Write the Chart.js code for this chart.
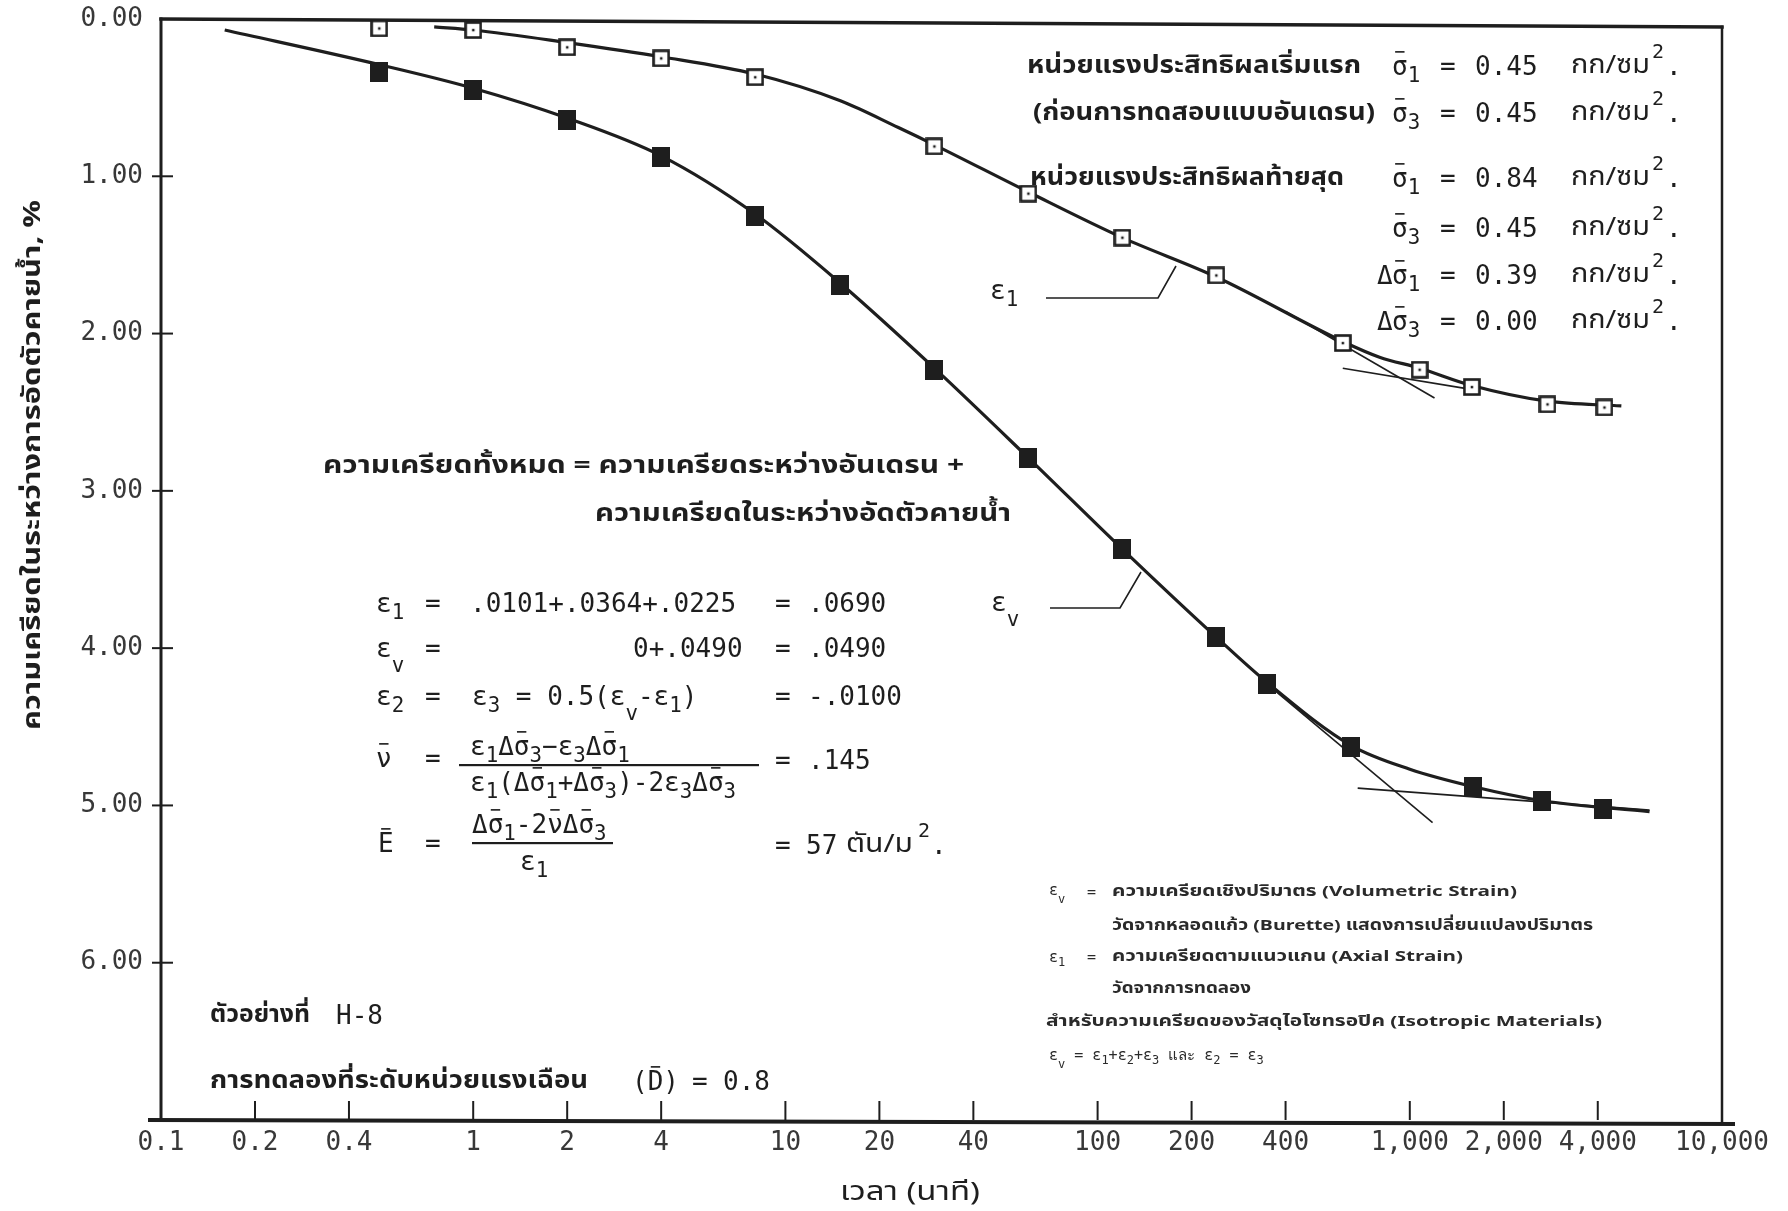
<!DOCTYPE html>
<html>
<head>
<meta charset="utf-8">
<title>H-8 consolidation</title>
<script src="https://cdn.jsdelivr.net/npm/chart.js@4.4.1/dist/chart.umd.min.js"></script>
<style>
  html, body { margin: 0; padding: 0; background: #fff; }
  #wrap { width: 1788px; height: 1211px; }
</style>
</head>
<body>
<div id="wrap"><canvas id="consolidation" width="1788" height="1211"></canvas></div>
<script>
// time axis (minutes, log) and strain axis (%)
const xTickValues = [0.1, 0.2, 0.4, 1, 2, 4, 10, 20, 40, 100, 200, 400, 1000, 2000, 4000, 10000];
const xTickLabels = ['0.1', '0.2', '0.4', '1', '2', '4', '10', '20', '40', '100', '200', '400', '1,000', '2,000', '4,000', '10,000'];
const yTickLabels = ['0.00', '1.00', '2.00', '3.00', '4.00', '5.00', '6.00'];

// e1 - axial strain readings (open squares)
const axialTime = [0.5, 1, 2, 4, 8, 30, 60, 120, 240, 610, 1075, 1580, 2760, 4200];
const axialStrain = [0.06, 0.07, 0.18, 0.25, 0.37, 0.81, 1.11, 1.39, 1.63, 2.06, 2.23, 2.34, 2.45, 2.47];

// ev - volumetric strain readings (filled squares)
const volTime = [0.5, 1, 2, 4, 8, 15, 30, 60, 120, 240, 350, 650, 1590, 2650, 4170];
const volStrain = [0.34, 0.45, 0.64, 0.88, 1.25, 1.69, 2.23, 2.79, 3.37, 3.93, 4.23, 4.63, 4.88, 4.97, 5.02];

// hand drawn curves through the readings
const axialCurveTime = [0.75, 1, 2, 4, 8, 15, 23, 30, 60, 120, 240, 610, 800, 1075, 1580, 2760, 4760];
const axialCurve = [0.05, 0.07, 0.15, 0.24, 0.35, 0.52, 0.69, 0.80, 1.10, 1.39, 1.64, 2.05, 2.15, 2.22, 2.33, 2.43, 2.46];
const volCurveTime = [0.16, 0.5, 1, 2, 4, 8, 15, 30, 60, 120, 240, 350, 650, 1000, 1590, 2650, 5860];
const volCurve = [0.07, 0.29, 0.44, 0.63, 0.87, 1.24, 1.68, 2.22, 2.79, 3.37, 3.93, 4.22, 4.62, 4.77, 4.88, 4.97, 5.04];

// tangent lines (end of primary consolidation)
const axialSteepTime = [400, 1200];
const axialSteep = [1.86, 2.41];
const axialFlatTime = [610, 1520];
const axialFlat = [2.22, 2.35];
const volSteepTime = [350, 1183];
const volSteep = [4.23, 5.11];
const volFlatTime = [681, 5860];
const volFlat = [4.89, 5.03];

const INK = '#1e1e1e';
const MONO = '"DejaVu Sans Mono", "Liberation Mono", monospace';
const THAI = '"Noto Sans Thai", "Noto Sans Thai UI", "Loma", "Garuda", "Tlwg Typo", "Noto Sans", "DejaVu Sans", sans-serif';

function pairs(xs, ys) {
    return xs.map((x, i) => ({ x: x, y: ys[i] }));
}

function squareMark(filled) {
    const c = document.createElement('canvas');
    c.width = 18;
    c.height = filled ? 20 : 18;
    const g = c.getContext('2d');
    if (filled) {
        g.fillStyle = INK;
        g.fillRect(0, 0, c.width, c.height);
    } else {
        g.fillStyle = '#fff';
        g.fillRect(1, 1, 16, 16);
        g.strokeStyle = INK;
        g.lineWidth = 2.6;
        g.strokeRect(1.5, 1.5, 15, 15);
        g.fillStyle = INK;
        g.fillRect(7.8, 7.8, 2.5, 2.5);
    }
    return c;
}

// ---- text helpers ----
function mono(g, str, x, y, size) {
    g.font = size + 'px ' + MONO;
    g.fillText(str, x, y);
    return x + g.measureText(str).width;
}

function thai(g, str, x, y, w, size, bold) {
    g.font = (bold ? 'bold ' : '') + size + 'px ' + THAI;
    const nat = g.measureText(str).width;
    g.save();
    g.translate(x, y);
    if (w) g.scale(w / nat, 1);
    g.fillText(str, 0, 0);
    g.restore();
}

function rich(g, x, y, parts, size) {
    let cx = x;
    parts.forEach(p => {
        if (typeof p === 'string') p = { t: p };
        const small = p.sub || p.sup || p.low;
        const fs = small ? size * 0.8 : size;
        g.font = fs + 'px ' + MONO;
        let dy = 0;
        if (p.sub) dy = size * 0.32;
        if (p.low) dy = size * 0.62;
        if (p.sup) dy = -size * 0.5;
        g.fillText(p.t, cx, y + dy);
        const w = g.measureText(p.t).width;
        if (p.bar) {
            g.lineWidth = Math.max(1.2, size / 16);
            g.beginPath();
            g.moveTo(cx + w * 0.2, y - size * 0.62);
            g.lineTo(cx + w * 0.8, y - size * 0.62);
            g.stroke();
        }
        cx += w;
    });
    return cx;
}

function stressRow(g, y, delta, sub, value) {
    if (delta) mono(g, 'Δ', 1377, y, 26);
    rich(g, 1392, y, [{ t: 'σ', bar: true }, { t: sub, sub: true }], 26);
    mono(g, '=', 1440, y, 26);
    mono(g, value, 1475, y, 26);
    thai(g, 'กก/ซม', 1571, y, 79, 26, false);
    mono(g, '2', 1652, y - 15, 20);
    mono(g, '.', 1666, y, 26);
}

const sheet = {
    id: 'sheet',
    beforeDatasetsDraw(chart) {
        const g = chart.ctx;
        const a = chart.chartArea;
        const xs = chart.scales.x;
        const ys = chart.scales.y;
        g.save();
        g.strokeStyle = INK;
        g.lineCap = 'square';
        // frame
        g.lineWidth = 3;
        g.beginPath(); g.moveTo(a.left, a.top); g.lineTo(a.left, a.bottom); g.stroke();
        g.lineWidth = 3.5;
        g.beginPath(); g.moveTo(a.left, a.top); g.lineTo(a.right, a.top + 8); g.stroke();
        g.lineWidth = 2.5;
        g.beginPath(); g.moveTo(a.right, a.top + 8); g.lineTo(a.right, a.bottom + 3); g.stroke();
        g.lineWidth = 4;
        g.beginPath(); g.moveTo(a.left - 11, a.bottom); g.lineTo(a.right + 11, a.bottom + 4); g.stroke();
        // ticks
        g.lineWidth = 2;
        g.lineCap = 'butt';
        xTickValues.slice(1, -1).forEach(v => {
            const px = xs.getPixelForValue(v);
            g.beginPath(); g.moveTo(px, a.bottom); g.lineTo(px, a.bottom - 19); g.stroke();
        });
        for (let i = 1; i < yTickLabels.length; i++) {
            const py = ys.getPixelForValue(i);
            g.beginPath(); g.moveTo(a.left - 9, py); g.lineTo(a.left + 12, py); g.stroke();
        }
        g.restore();
    },
    afterDatasetsDraw(chart) {
        const g = chart.ctx;
        g.save();
        g.fillStyle = INK;
        g.strokeStyle = INK;
        g.textBaseline = 'middle';
        g.textAlign = 'left';

        // initial / final effective stresses
        thai(g, 'หน่วยแรงประสิทธิผลเริ่มแรก', 1027, 68, 334, 24, true);
        stressRow(g, 68, false, '1', '0.45');
        thai(g, '(ก่อนการทดสอบแบบอันเดรน)', 1033, 115, 342, 24, true);
        stressRow(g, 115, false, '3', '0.45');
        thai(g, 'หน่วยแรงประสิทธิผลท้ายสุด', 1030, 180, 314, 24, true);
        stressRow(g, 180, false, '1', '0.84');
        stressRow(g, 230, false, '3', '0.45');
        stressRow(g, 277, true, '1', '0.39');
        stressRow(g, 323, true, '3', '0.00');

        // curve labels with leaders
        g.lineWidth = 1.6;
        rich(g, 990, 292, ['ε', { t: '1', sub: true }], 26);
        g.beginPath(); g.moveTo(1046, 298); g.lineTo(1158, 298); g.lineTo(1176, 266); g.stroke();
        rich(g, 991, 604, ['ε', { t: 'v', low: true }], 26);
        g.beginPath(); g.moveTo(1050, 608); g.lineTo(1120, 608); g.lineTo(1141, 572); g.stroke();

        // total strain note
        thai(g, 'ความเครียดทั้งหมด = ความเครียดระหว่างอันเดรน +', 323, 468, 641, 24, true);
        thai(g, 'ความเครียดในระหว่างอัดตัวคายน้ำ', 595, 516, 416, 24, true);

        // worked equations
        const E = 26;
        rich(g, 376, 605, ['ε', { t: '1', sub: true }], E);
        mono(g, '=', 425, 605, E);
        mono(g, '.0101+.0364+.0225', 470, 605, E);
        mono(g, '=', 775, 605, E);
        mono(g, '.0690', 808, 605, E);

        rich(g, 376, 650, ['ε', { t: 'v', low: true }], E);
        mono(g, '=', 425, 650, E);
        mono(g, '0+.0490', 633, 650, E);
        mono(g, '=', 775, 650, E);
        mono(g, '.0490', 808, 650, E);

        rich(g, 376, 698, ['ε', { t: '2', sub: true }], E);
        mono(g, '=', 425, 698, E);
        rich(g, 472, 698, ['ε', { t: '3', sub: true }, ' = 0.5(ε', { t: 'v', low: true }, '-ε', { t: '1', sub: true }, ')'], E);
        mono(g, '=', 775, 698, E);
        mono(g, '-.0100', 808, 698, E);

        rich(g, 376, 760, [{ t: 'ν', bar: true }], E);
        mono(g, '=', 425, 760, E);
        rich(g, 470, 748, ['ε', { t: '1', sub: true }, 'Δ', { t: 'σ', bar: true }, { t: '3', sub: true }, '−ε', { t: '3', sub: true }, 'Δ', { t: 'σ', bar: true }, { t: '1', sub: true }], E);
        g.fillRect(459, 764, 300, 2.2);
        rich(g, 470, 784, ['ε', { t: '1', sub: true }, '(Δ', { t: 'σ', bar: true }, { t: '1', sub: true }, '+Δ', { t: 'σ', bar: true }, { t: '3', sub: true }, ')-2ε', { t: '3', sub: true }, 'Δ', { t: 'σ', bar: true }, { t: '3', sub: true }], E);
        mono(g, '=', 775, 762, E);
        mono(g, '.145', 808, 762, E);

        rich(g, 378, 845, [{ t: 'E', bar: true }], E);
        mono(g, '=', 425, 845, E);
        rich(g, 472, 826, ['Δ', { t: 'σ', bar: true }, { t: '1', sub: true }, '-2', { t: 'ν', bar: true }, 'Δ', { t: 'σ', bar: true }, { t: '3', sub: true }], E);
        g.fillRect(472, 842, 141, 2.2);
        rich(g, 520, 863, ['ε', { t: '1', sub: true }], E);
        mono(g, '=', 775, 847, E);
        mono(g, '57', 806, 847, E);
        thai(g, 'ตัน/ม', 846, 847, 67, 26, false);
        mono(g, '2', 918, 832, 20);
        mono(g, '.', 931, 847, E);

        // legend notes
        const N = 15;
        g.fillStyle = '#2a2a2a';
        rich(g, 1049, 891, ['ε', { t: 'v', low: true }], N);
        mono(g, '=', 1087, 893, N);
        thai(g, 'ความเครียดเชิงปริมาตร (Volumetric Strain)', 1112, 893, 405, N, true);
        thai(g, 'วัดจากหลอดแก้ว (Burette) แสดงการเปลี่ยนแปลงปริมาตร', 1112, 927, 481, N, true);
        rich(g, 1049, 958, ['ε', { t: '1', sub: true }], N);
        mono(g, '=', 1087, 958, N);
        thai(g, 'ความเครียดตามแนวแกน (Axial Strain)', 1112, 958, 351, N, true);
        thai(g, 'วัดจากการทดลอง', 1112, 990, 139, N, true);
        thai(g, 'สำหรับความเครียดของวัสดุไอโซทรอปิค (Isotropic Materials)', 1046, 1023, 556, N, true);
        rich(g, 1049, 1056, ['ε', { t: 'v', low: true }, ' = ε', { t: '1', sub: true }, '+ε', { t: '2', sub: true }, '+ε', { t: '3', sub: true }, ' และ ε', { t: '2', sub: true }, ' = ε', { t: '3', sub: true }], N);
        g.fillStyle = INK;

        // sample id
        thai(g, 'ตัวอย่างที่', 210, 1017, 100, 24, true);
        mono(g, 'H-8', 336, 1017, 26);
        thai(g, 'การทดลองที่ระดับหน่วยแรงเฉือน', 210, 1083, 378, 24, true);
        rich(g, 632, 1083, ['(', { t: 'D', bar: true }, ')'], 26);
        mono(g, '=', 692, 1083, 26);
        mono(g, '0.8', 723, 1083, 26);

        // axis titles
        thai(g, 'เวลา (นาที)', 840, 1195, 140, 26, false);
        g.save();
        g.translate(35, 465);
        g.rotate(-Math.PI / 2);
        thai(g, 'ความเครียดในระหว่างการอัดตัวคายน้ำ, %', -265, 0, 530, 24, true);
        g.restore();

        g.restore();
    }
};

const openSquare = squareMark(false);
const filledSquare = squareMark(true);

const ctx = document.getElementById('consolidation').getContext('2d');
const strainChart = new Chart(ctx, {
    type: 'scatter',
    data: {
        datasets: [
            {
                label: 'ε1',
                data: pairs(axialTime, axialStrain),
                pointStyle: openSquare,
                pointRadius: 9,
                showLine: false,
                clip: false,
                order: 0
            },
            {
                label: 'εv',
                data: pairs(volTime, volStrain),
                pointStyle: filledSquare,
                pointRadius: 10,
                showLine: false,
                clip: false,
                order: 0
            },
            {
                label: 'ε1 curve',
                data: pairs(axialCurveTime, axialCurve),
                showLine: true,
                pointRadius: 0,
                borderColor: INK,
                borderWidth: 3.2,
                cubicInterpolationMode: 'monotone',
                order: 2
            },
            {
                label: 'εv curve',
                data: pairs(volCurveTime, volCurve),
                showLine: true,
                pointRadius: 0,
                borderColor: INK,
                borderWidth: 3.2,
                cubicInterpolationMode: 'monotone',
                order: 2
            },
            { data: pairs(axialSteepTime, axialSteep), showLine: true, pointRadius: 0, borderColor: INK, borderWidth: 1.6, order: 1 },
            { data: pairs(axialFlatTime, axialFlat), showLine: true, pointRadius: 0, borderColor: INK, borderWidth: 1.6, order: 1 },
            { data: pairs(volSteepTime, volSteep), showLine: true, pointRadius: 0, borderColor: INK, borderWidth: 1.6, order: 1 },
            { data: pairs(volFlatTime, volFlat), showLine: true, pointRadius: 0, borderColor: INK, borderWidth: 1.6, order: 1 }
        ]
    },
    options: {
        responsive: false,
        animation: false,
        events: [],
        layout: { padding: { top: 19, right: 66, left: 0, bottom: 0 } },
        scales: {
            x: {
                type: 'logarithmic',
                min: 0.1,
                max: 10000,
                afterBuildTicks: (scale) => {
                    scale.ticks = xTickValues.map(v => ({ value: v }));
                },
                afterFit: (scale) => {
                    scale.height = 91;
                    scale.paddingLeft = 0;
                    scale.paddingRight = 0;
                },
                grid: { display: false, drawTicks: false },
                border: { display: false },
                ticks: {
                    autoSkip: false,
                    maxRotation: 0,
                    padding: 8,
                    color: '#383838',
                    font: { family: MONO, size: 26 },
                    callback: (value, index) => xTickLabels[index]
                }
            },
            y: {
                min: 0,
                max: 7,
                reverse: true,
                afterFit: (scale) => {
                    scale.width = 161;
                    scale.paddingTop = 0;
                    scale.paddingBottom = 0;
                },
                grid: { display: false, drawTicks: false },
                border: { display: false },
                ticks: {
                    stepSize: 1,
                    padding: 18,
                    color: '#383838',
                    font: { family: MONO, size: 26 },
                    callback: (value) => yTickLabels[value] || ''
                }
            }
        },
        plugins: {
            legend: { display: false },
            tooltip: { enabled: false }
        }
    },
    plugins: [sheet]
});
</script>
</body>
</html>
